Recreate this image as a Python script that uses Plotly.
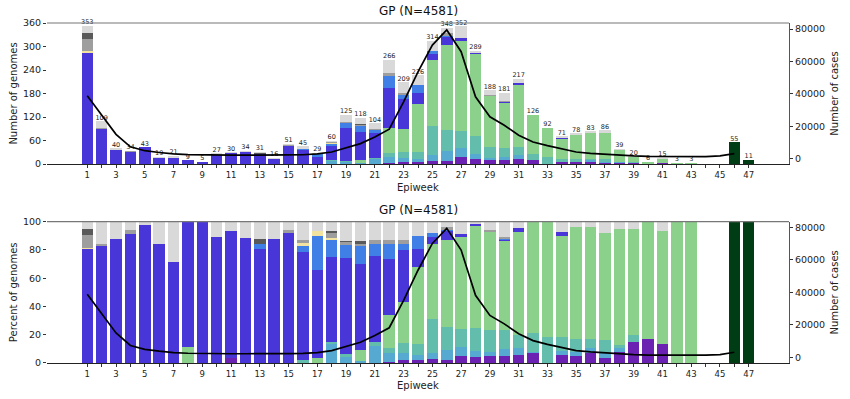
import plotly.graph_objects as go

weeks = list(range(1, 48))
totals = [353, 109, 40, 34, 43, 19, 21, 9, 5, 27, 30, 34, 31, 16, 51, 45, 29, 60, 125, 118,
          104, 266, 209, 226, 314, 348, 352, 289, 188, 181, 217, 126, 92, 71, 78, 83, 86, 39,
          20, 6, 15, 3, 3, 0, 0, 55, 11]

# percent of genomes per lineage group, weeks 1..47
pct_purple = [0, 0, 0, 0, 0, 0, 0, 0, 0, 0, 3.3, 0, 0, 0, 0, 0, 0, 0, 0, 0,
              0, 0.8, 2.4, 2.2, 2.5, 2.3, 5.3, 4, 5, 5, 5.5, 7.1, 0, 5.6, 5.1, 7.2, 3.5, 7.7,
              15, 16.7, 13.3, 0, 0, 0, 0, 0, 0]
pct_lightblue = [0, 0, 0, 0, 0, 0, 0, 0, 0, 0, 0, 0, 0, 0, 0, 0, 0, 13.3, 4, 1.7,
                 12, 6, 5, 3.5, 4.5, 7, 6, 4.5, 3, 5, 5, 0.8, 0, 2.8, 2.6, 3.6, 3.5, 2.6,
                 0, 0, 0, 0, 0, 0, 0, 0, 0]
pct_teal = [0, 0, 0, 0, 0, 0, 0, 0, 0, 0, 0, 0, 0, 0, 0, 2.2, 0, 1.7, 2.4, 0,
            3, 4, 7, 8, 24, 16, 13, 16, 15, 13, 9, 13, 18.5, 9.9, 9, 6, 9.3, 2.6,
            5, 0, 0, 0, 0, 0, 0, 0, 0]
pct_green = [0, 0, 0, 0, 0, 0, 0, 11, 0, 0, 0, 0, 0, 0, 0, 0, 3.45, 0, 0, 7.6,
             0, 23.5, 28.6, 54.5, 53.5, 61.7, 65, 72.5, 69.4, 63.3, 73.5, 79.1, 81.5, 71.8, 79.5, 79.5, 75.6, 82,
             75, 83.3, 80, 100, 100, 0, 0, 0, 0]
pct_violet = [80.5, 83, 88, 91, 98, 84.5, 71.5, 89, 100, 89, 90.3, 88.5, 81, 87.5, 92.2, 76.1, 62.1, 60, 68, 60.5,
              61, 39, 37, 12.4, 5, 6.5, 2.2, 1.5, 0, 0.6, 2.3, 0, 0, 2.8, 0, 0, 0, 0,
              0, 0, 0, 0, 0, 0, 0, 0, 0]
pct_royal = [0, 0, 0, 0, 0, 0, 0, 0, 0, 0, 0, 0, 3.2, 0, 0, 4.4, 24.1, 11.7, 9, 13,
             8, 11, 4.5, 9, 2.5, 0.5, 0, 0, 0.5, 1.1, 0, 0, 0, 0, 0, 0, 0, 0,
             0, 0, 0, 0, 0, 0, 0, 0, 0]
pct_yellow = [1, 0, 0, 0, 0, 0, 0, 0, 0, 0, 0, 0, 0, 0, 0, 2.2, 3.45, 1.7, 0, 0,
              0, 0, 0, 0, 0, 0, 0, 0, 0, 0, 0, 0, 0, 0, 0, 0, 0, 0,
              0, 0, 0, 0, 0, 0, 0, 0, 0]
pct_gray = [9, 1.5, 0, 3, 0, 0, 0, 0, 0, 0, 0, 0, 0, 0, 2, 2.2, 0, 3.3, 2.4, 1.7,
            2.9, 3, 2.5, 0, 0, 2, 0, 0, 1, 1.1, 0, 0, 0, 0, 0, 0, 0, 0,
            0, 0, 0, 0, 0, 0, 0, 0, 0]
pct_darkgray = [4, 0, 0, 0, 0, 0, 0, 0, 0, 0, 0, 0, 3.2, 0, 0, 0, 0, 1.7, 0.8, 1.7,
                0, 0, 0, 0, 0, 0, 0, 0, 0, 0, 0, 0, 0, 0, 0, 0, 0, 0,
                0, 0, 0, 0, 0, 0, 0, 0, 0]
pct_other = [5.5, 15.5, 12, 6, 2, 15.5, 28.5, 0, 0, 11, 6.4, 11.5, 12.6, 12.5, 5.8, 12.9, 6.9, 6.6, 13.4, 13.8,
             13.1, 12.7, 13, 10.4, 8, 4, 8.5, 1.5, 6.1, 10.9, 4.7, 0, 0, 7.1, 3.8, 3.7, 8.1, 5.1,
             5, 0, 6.7, 0, 0, 0, 0, 0, 0]
pct_omicron = [0] * 45 + [100, 100]

cases = [38760, 26500, 15000, 7300, 4900, 3800, 2900, 2500, 2300, 2200, 2200, 2200, 2100, 2200, 2300, 2400,
         2900, 4100, 6800, 9300, 13400, 18200, 35000, 53600, 70100, 79400, 66000, 38200, 25800, 20600,
         14500, 10300, 8000, 6000, 4100, 3300, 2700, 2100, 1700, 1400, 1300, 1200, 1200, 1300, 1700, 3100]
case_weeks = list(range(1, 47))

groups = [
    ("C.1.2", pct_purple, "#6b22b3"),
    ("Delta AY.x", pct_lightblue, "#56a9d0"),
    ("Delta AY.y", pct_teal, "#62bdac"),
    ("Delta", pct_green, "#8bd18b"),
    ("Beta", pct_violet, "#4936d8"),
    ("Alpha", pct_royal, "#3f7fe6"),
    ("Eta", pct_yellow, "#f2e3a0"),
    ("B.1.1", pct_gray, "#9e9e9e"),
    ("B.1", pct_darkgray, "#5a5a5a"),
    ("Other", pct_other, "#d9d9d9"),
    ("Omicron", pct_omicron, "#003d14"),
]

fig = go.Figure()
for name, pct, col in groups:
    counts = [p / 100 * t for p, t in zip(pct, totals)]
    fig.add_trace(go.Bar(x=weeks, y=counts, name=name, marker=dict(color=col, line=dict(width=0)),
                         width=0.8, xaxis="x", yaxis="y", showlegend=False))
    fig.add_trace(go.Bar(x=weeks, y=pct, name=name, marker=dict(color=col, line=dict(width=0)),
                         width=0.8, xaxis="x2", yaxis="y3", showlegend=False))

lab_x = [w for w, t in zip(weeks, totals) if t > 0]
lab_t = [t for t in totals if t > 0]
fig.add_trace(go.Scatter(x=lab_x, y=lab_t, text=[str(t) for t in lab_t], mode="text",
                         textposition="top center", textfont=dict(size=6.5, color="#222222"),
                         xaxis="x", yaxis="y", showlegend=False, cliponaxis=False))

fig.add_trace(go.Scatter(x=case_weeks, y=cases, mode="lines", line=dict(color="black", width=1.7),
                         xaxis="x", yaxis="y2", showlegend=False))
fig.add_trace(go.Scatter(x=case_weeks, y=cases, mode="lines", line=dict(color="black", width=1.7),
                         xaxis="x2", yaxis="y4", showlegend=False))

tickvals = weeks
ticktext = [str(w) if w % 2 == 1 else "" for w in weeks]
font = "DejaVu Sans"
xcommon = dict(range=[-1.8, 49.8], tickvals=tickvals, ticktext=ticktext, ticks="outside", ticklen=3,
               tickcolor="#333", showline=True, linecolor="#222", linewidth=1, showgrid=False,
               zeroline=False, automargin=False, tickfont=dict(size=8.5, color="#222", family=font))
ycommon = dict(ticks="outside", ticklen=3, tickcolor="#333", showgrid=False, zeroline=False,
               automargin=False, tickfont=dict(size=9.5, color="#222", family=font))
top_dom = [0.5853, 1.0]
bot_dom = [0.0, 0.4156]
case_ticks = [0, 20000, 40000, 60000, 80000]

fig.update_layout(
    width=850, height=399,
    margin=dict(l=47, r=61, t=23, b=36),
    paper_bgcolor="white", plot_bgcolor="white",
    barmode="stack", bargap=0,
    font=dict(family=font, color="#222"),
    xaxis=dict(domain=[0, 1], anchor="y", **xcommon),
    xaxis2=dict(domain=[0, 1], anchor="y3", **xcommon),
    yaxis=dict(domain=top_dom, anchor="x", range=[0, 360], tickvals=[0, 60, 120, 180, 240, 300, 360],
               title=dict(text="Number of genomes", font=dict(size=10, color="#222"), standoff=3),
               showline=False, **ycommon),
    yaxis2=dict(anchor="x", overlaying="y", side="right", range=[-3300, 83700],
                tickvals=case_ticks, ticktext=[str(v) for v in case_ticks],
                title=dict(text="Number of cases", font=dict(size=10, color="#222"), standoff=6),
                showline=True, linecolor="#555", linewidth=1, **ycommon),
    yaxis3=dict(domain=bot_dom, anchor="x2", range=[0, 100], tickvals=[0, 20, 40, 60, 80, 100],
                title=dict(text="Percent of genomes", font=dict(size=10, color="#222"), standoff=3),
                showline=False, **ycommon),
    yaxis4=dict(anchor="x2", overlaying="y3", side="right", range=[-3500, 83500],
                tickvals=case_ticks, ticktext=[str(v) for v in case_ticks],
                title=dict(text="Number of cases", font=dict(size=10, color="#222"), standoff=6),
                showline=True, linecolor="#555", linewidth=1, **ycommon),
    shapes=[
        dict(type="line", xref="paper", yref="paper", x0=0, x1=1, y0=1, y1=1,
             line=dict(color="#777", width=1.2)),
        dict(type="line", xref="paper", yref="paper", x0=0, x1=1, y0=bot_dom[1], y1=bot_dom[1],
             line=dict(color="#777", width=1.2)),
    ],
    annotations=[
        dict(text="GP (N=4581)", xref="paper", yref="paper", x=0.5, y=1.036, showarrow=False,
             font=dict(size=12, color="#111"), yanchor="middle"),
        dict(text="GP (N=4581)", xref="paper", yref="paper", x=0.5, y=0.449, showarrow=False,
             font=dict(size=12, color="#111"), yanchor="middle"),
        dict(text="Epiweek", xref="paper", yref="paper", x=0.5, y=0.5176, showarrow=False,
             font=dict(size=10, color="#222"), yanchor="middle"),
        dict(text="Epiweek", xref="paper", yref="paper", x=0.5, y=-0.0676, showarrow=False,
             font=dict(size=10, color="#222"), yanchor="middle"),
    ],
)

fig.write_html("out.html", config={"displayModeBar": False, "staticPlot": True},
               post_script="document.body.style.margin='0';document.body.style.overflow='hidden';")
